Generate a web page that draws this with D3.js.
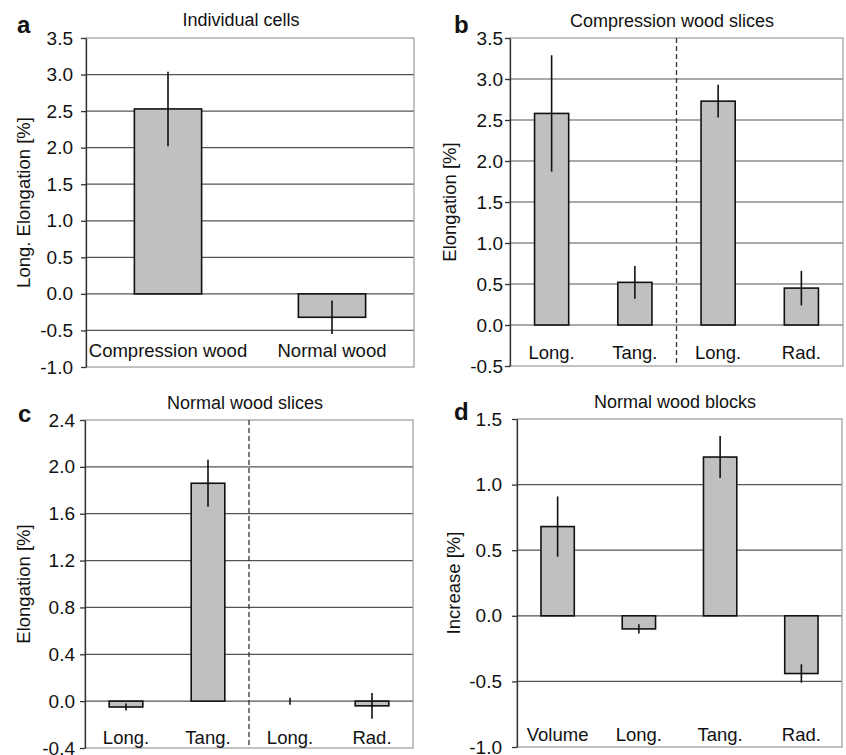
<!DOCTYPE html>
<meta charset="utf-8">
<style>
  body { margin: 0; background: #fff; }
  svg { font-family: "Liberation Sans", Arial, sans-serif; }
  .grid line { stroke: #555; stroke-width: 1.2; }
  .frame { fill: none; stroke: #999; stroke-width: 1.2; }
  .axis path { stroke: #333; stroke-width: 1.3; }
  .axis line { stroke: #333; stroke-width: 1.3; }
  .axis text { font-size: 19px; fill: #111; }
  .bar { fill: #c0c0c0; stroke: #111; stroke-width: 1.6; }
  .err { stroke: #111; stroke-width: 1.6; }
  .cat { font-size: 18.5px; fill: #111; text-anchor: middle; }
  .title { font-size: 18px; fill: #111; text-anchor: middle; }
  .ylab { font-size: 18.5px; fill: #111; text-anchor: middle; }
  .letter { font-size: 24px; font-weight: bold; fill: #111; }
  .divider { stroke: #333; stroke-width: 1.3; stroke-dasharray: 5,3; }
</style>
<body>
<div id="chart"></div>
<script src="https://d3js.org/d3.v7.min.js"></script>
<script>

// a: individual cells
const catsA = ["Compression wood", "Normal wood"];
const meanA = [2.53, -0.32];
const errA  = [0.51, 0.23];
const ticksA = [-1.0, -0.5, 0.0, 0.5, 1.0, 1.5, 2.0, 2.5, 3.0, 3.5];

// b: compression wood slices
const catsB = ["Long.", "Tang.", "Long.", "Rad."];
const meanB = [2.58, 0.52, 2.73, 0.45];
const errB  = [0.71, 0.2, 0.2, 0.21];
const ticksB = [-0.5, 0.0, 0.5, 1.0, 1.5, 2.0, 2.5, 3.0, 3.5];

// c: normal wood slices
const catsC = ["Long.", "Tang.", "Long.", "Rad."];
const meanC = [-0.05, 1.86, 0.0, -0.04];
const errC  = [0.03, 0.2, 0.03, 0.11];
const ticksC = [-0.4, 0.0, 0.4, 0.8, 1.2, 1.6, 2.0, 2.4];

// d: normal wood blocks
const catsD = ["Volume", "Long.", "Tang.", "Rad."];
const meanD = [0.68, -0.1, 1.21, -0.44];
const errD  = [0.23, 0.035, 0.16, 0.07];
const ticksD = [-1.0, -0.5, 0.0, 0.5, 1.0, 1.5];

const svg = d3.select("#chart").append("svg")
    .attr("width", 846)
    .attr("height", 755);

function panel(opt) {
  const g = svg.append("g");
  const y = d3.scaleLinear().domain(opt.domain).range([opt.bottom, opt.top]);
  const x = d3.scaleBand().domain(d3.range(opt.cats.length))
      .range([opt.left, opt.right]).padding(0);
  const bw = x.bandwidth() * 0.41;

  // gridlines
  g.append("g").attr("class", "grid")
    .selectAll("line")
    .data(opt.ticks.slice(1, -1))
    .join("line")
      .attr("x1", opt.left).attr("x2", opt.right)
      .attr("y1", d => y(d)).attr("y2", d => y(d));

  g.append("rect").attr("class", "frame")
    .attr("x", opt.left).attr("y", opt.top)
    .attr("width", opt.right - opt.left).attr("height", opt.bottom - opt.top);

  if (opt.divider) {
    g.append("line").attr("class", "divider")
      .attr("x1", x(2)).attr("x2", x(2))
      .attr("y1", opt.top).attr("y2", opt.bottom);
  }

  g.append("g").attr("class", "axis")
    .attr("transform", `translate(${opt.left},0)`)
    .call(d3.axisLeft(y).tickValues(opt.ticks).tickSize(5).tickSizeOuter(0)
      .tickPadding(opt.pad).tickFormat(d => d.toFixed(1)));

  const data = opt.cats.map((c, i) => ({ i: i, m: opt.mean[i], e: opt.err[i] }));

  g.selectAll(".bar").data(data.filter(d => Math.abs(d.m) > 0.001)).join("rect")
    .attr("class", "bar")
    .attr("x", d => x(d.i) + x.bandwidth() / 2 - bw / 2)
    .attr("width", bw)
    .attr("y", d => y(Math.max(0, d.m)))
    .attr("height", d => Math.abs(y(d.m) - y(0)));

  g.selectAll(".err").data(data).join("line")
    .attr("class", "err")
    .attr("x1", d => x(d.i) + x.bandwidth() / 2)
    .attr("x2", d => x(d.i) + x.bandwidth() / 2)
    .attr("y1", d => y(d.m - d.e))
    .attr("y2", d => y(d.m + d.e));

  g.selectAll(".cat").data(opt.cats).join("text")
    .attr("class", "cat")
    .attr("x", (d, i) => x(i) + x.bandwidth() / 2)
    .attr("y", opt.catY)
    .text(d => d);

  g.append("text").attr("class", "title")
    .attr("x", opt.titleX).attr("y", opt.titleY).text(opt.title);

  g.append("text").attr("class", "ylab")
    .attr("transform", `translate(${opt.ylabX},${(opt.top + opt.bottom) / 2}) rotate(-90)`)
    .text(opt.ylab);

  g.append("text").attr("class", "letter")
    .attr("x", opt.letterX).attr("y", opt.letterY).text(opt.letter);
}

panel({ cats: catsA, mean: meanA, err: errA, ticks: ticksA, domain: [-1.0, 3.5],
  left: 86, right: 414, top: 38, bottom: 367, pad: 8, catY: 357,
  title: "Individual  cells", titleX: 241, titleY: 26,
  ylab: "Long. Elongation [%]", ylabX: 30, letter: "a", letterX: 17, letterY: 33 });

panel({ cats: catsB, mean: meanB, err: errB, ticks: ticksB, domain: [-0.5, 3.5],
  left: 510, right: 843, top: 38, bottom: 366, pad: 2, catY: 359, divider: true,
  title: "Compression wood slices", titleX: 672, titleY: 27,
  ylab: "Elongation [%]", ylabX: 456, letter: "b", letterX: 454, letterY: 33 });

panel({ cats: catsC, mean: meanC, err: errC, ticks: ticksC, domain: [-0.4, 2.4],
  left: 85, right: 413, top: 420, bottom: 748, pad: 5, catY: 744, divider: true,
  title: "Normal wood slices", titleX: 245, titleY: 409,
  ylab: "Elongation [%]", ylabX: 30, letter: "c", letterX: 18, letterY: 422 });

panel({ cats: catsD, mean: meanD, err: errD, ticks: ticksD, domain: [-1.0, 1.5],
  left: 517, right: 842, top: 419, bottom: 747, pad: 10, catY: 741,
  title: "Normal wood blocks", titleX: 675, titleY: 408,
  ylab: "Increase [%]", ylabX: 460, letter: "d", letterX: 454, letterY: 420 });

</script>
</body>
